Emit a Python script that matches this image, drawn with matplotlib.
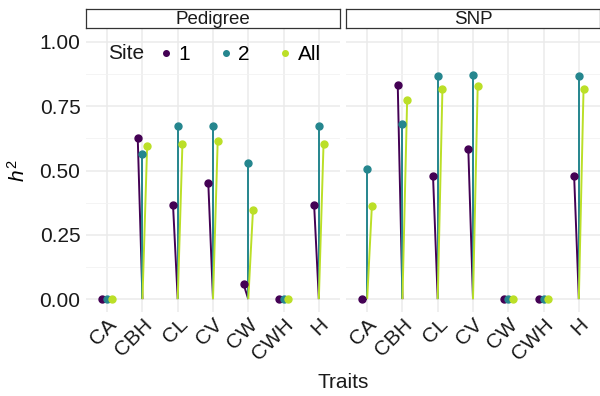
import numpy as np
import matplotlib.pyplot as plt

plt.rcParams['font.family'] = ['Liberation Sans', 'DejaVu Sans']
plt.rcParams['mathtext.fontset'] = 'custom'
plt.rcParams['mathtext.it'] = 'Liberation Sans:italic'
plt.rcParams['mathtext.rm'] = 'Liberation Sans'

traits = ['CA', 'CBH', 'CL', 'CV', 'CW', 'CWH', 'H']
sites = ['1', '2', 'All']
cores = ['#440154', '#25868E', '#BBDF27']

# heritabilidade por painel e por site
pedigree = {
    '1':   [0.0, 0.626, 0.366, 0.451, 0.058, 0.0, 0.366],
    '2':   [0.0, 0.564, 0.673, 0.673, 0.529, 0.0, 0.673],
    'All': [0.0, 0.595, 0.603, 0.615, 0.346, 0.0, 0.603],
}
snp = {
    '1':   [0.0, 0.833, 0.479, 0.584, 0.0, 0.0, 0.479],
    '2':   [0.506, 0.681, 0.868, 0.872, 0.0, 0.0, 0.868],
    'All': [0.362, 0.774, 0.817, 0.829, 0.0, 0.0, 0.817],
}
paineis = ['Pedigree', 'SNP']
dados = [pedigree, snp]

W, H = 600, 396
fig = plt.figure(figsize=(6, 3.96), dpi=100)

def px_axes(x0, y0, x1, y1):
    return fig.add_axes([x0 / W, 1 - y1 / H, (x1 - x0) / W, (y1 - y0) / H])

x = np.arange(len(traits))
desloc = [-0.1333, 0.0, 0.1333]
lefts = [86, 346]

for k, (nome, d) in enumerate(zip(paineis, dados)):
    ax = px_axes(lefts[k], 29, lefts[k] + 254, 312)
    ax.set_xlim(-0.6, 6.6)
    ax.set_ylim(-0.05, 1.05)
    ax.set_yticks([0, 0.25, 0.5, 0.75, 1.0])
    ax.set_yticks([0.125, 0.375, 0.625, 0.875], minor=True)
    ax.set_xticks(x)
    ax.grid(True, which='major', color='#EBEBEB', linewidth=1.1)
    ax.grid(True, which='minor', axis='y', color='#F2F2F2', linewidth=0.6)
    ax.set_axisbelow(True)
    for s in ax.spines.values():
        s.set_visible(False)
    ax.tick_params(which='both', length=0, labelsize=15, colors='#1A1A1A')
    ax.tick_params(axis='x', pad=2)
    ax.set_xticklabels(traits, rotation=45, ha='right', rotation_mode='anchor')
    if k == 0:
        ax.set_yticklabels(['0.00', '0.25', '0.50', '0.75', '1.00'])
        ax.tick_params(axis='y', pad=4)
    else:
        ax.set_yticklabels([])

    for site, cor, dx in zip(sites, cores, desloc):
        y = np.array(d[site])
        for xi, yi in zip(x, y):
            ax.plot([xi, xi + dx], [0, yi], color=cor, linewidth=1.4,
                    solid_capstyle='butt', zorder=2)
        ax.plot(x + dx, y, 'o', color=cor, markersize=5, zorder=3,
                label=site, linestyle='none')

    # faixa do painel
    st = px_axes(lefts[k], 9, lefts[k] + 254, 28)
    st.set_xticks([])
    st.set_yticks([])
    for s in st.spines.values():
        s.set_color('#333333')
        s.set_linewidth(0.9)
    st.text(0.5, 0.45, nome, ha='center', va='center', fontsize=13.5,
            color='#1A1A1A', transform=st.transAxes)

    if k == 0:
        ax.legend(loc='upper left', bbox_to_anchor=(0.2425, 0.986), ncol=3,
                  frameon=False, fontsize=15, handlelength=0.6,
                  handletextpad=0.3, columnspacing=1.4, markerscale=0.8,
                  borderaxespad=0.2)
        ax.text(0.085, 0.915, 'Site', fontsize=15, color='#1A1A1A',
                ha='left', va='center', transform=ax.transAxes)

fig.text(18 / W, 1 - 171 / H, r'$h^2$', rotation=90, fontsize=15,
         ha='center', va='center')
fig.text(343 / W, 1 - 383 / H, 'Traits', fontsize=15, ha='center',
         va='center', color='#1A1A1A')

plt.savefig('out.png', dpi=100)
